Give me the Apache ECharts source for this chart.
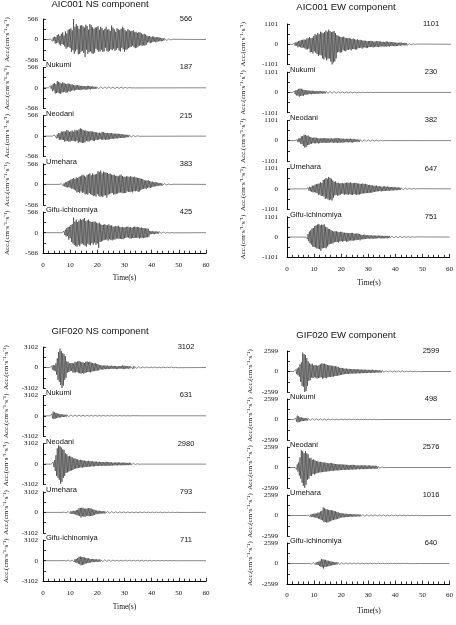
<!DOCTYPE html>
<html>
<head>
<meta charset="utf-8">
<script src="https://cdn.jsdelivr.net/npm/echarts@6/dist/echarts.min.js"></script>
<style>
  html, body { margin: 0; padding: 0; background: #fff; }
  #chart-container { width: 456px; height: 625px; }
</style>
</head>
<body>
<div id="chart-container"></div>
<script>
var dom = document.getElementById("chart-container");
var myChart = echarts.init(dom, null, { renderer: "canvas" });

var panelTitles = ["AIC001 NS component", "AIC001 EW component", "GIF020 NS component", "GIF020 EW component"];
var stationNames = ["", "Nukumi", "Neodani", "Umehara", "Gifu-ichinomiya"];
var axisMax = [566, 1101, 3102, 2599];
var peakValues = [
  [566, 187, 215, 383, 425],
  [1101, 230, 382, 647, 751],
  [3102, 631, 2980, 793, 711],
  [2599, 498, 2576, 1016, 640]
];
// time (s) where each trace leaves the zero line
var onsetTimes = [
  [2, 2, 3.5, 6, 7],
  [2, 2, 3, 7, 7],
  [2.5, 2.5, 3, 7, 7],
  [2.5, 2.5, 3, 7, 7.5]
];
var sampleStep = 0.25; // s between read-off samples (4 per second)

// samples in % of each trace's own peak, one line of 4 per second
var aicNsWaves = [
  [2,-4,3,-5, 6,-9,10,-7, 14,-20,12,-18, 22,-15,25,-24, 18,-30,28,-22, 35,-26,20,-34, 40,-45,30,-38, 48,-36,50,-42,
   55,-60,45,-52, 100,-70,62,-58, 75,-48,66,-72, 52,-70,68,-60, 70,-55,64,-66, 58,-85,72,-50, 66,-70,48,-62, 75,-58,70,-68,
   60,-70,52,-64, 58,-45,60,-52, 65,-60,48,-58, 62,-50,55,-60, 45,-58,52,-40, 62,-55,48,-60, 50,-55,42,-48, 68,-52,58,-45,
   50,-55,38,-50, 55,-42,50,-54, 46,-58,52,-40, 62,-48,55,-60, 45,-50,40,-48, 50,-42,46,-38, 40,-36,42,-30, 45,-38,35,-42,
   38,-40,32,-35, 36,-30,34,-28, 30,-32,25,-28, 28,-30,24,-26, 18,-15,16,-14, 17,-18,12,-15, 15,-12,14,-10, 12,-14,10,-11,
   12,-9,10,-8, 8,-9,6,-7, 6,-5,5,-4, 4,-5,3,-4, 3,-2,3,-2, 2,-1,1,-1],
  [8,-20,28,-15, 35,-50,60,-40, 70,-85,55,-78, 100,-70,88,-82, 75,-90,62,-70, 80,-65,72,-58, 60,-75,55,-68, 65,-50,58,-60,
   48,-42,50,-38, 40,-42,35,-30, 38,-32,40,-28, 35,-30,28,-34, 30,-26,28,-22, 25,-28,22,-26, 30,-24,28,-20, 24,-25,20,-18,
   20,-16,18,-15, 16,-18,14,-12, 15,-13,16,-11, 14,-12,15,-10, 12,-14,11,-9, 12,-10,11,-12, 14,-11,12,-9, 12,-10,11,-12,
   10,-12,9,-10, 10,-9,8,-10, 11,-8,10,-9, 9,-8,7,-8, 7,-6,5,-6, 5,-4,4,-3, 3,-2,2,-1],
  [5,-10,15,-8, 18,-30,22,-26, 40,-50,35,-45, 60,-48,55,-50, 62,-72,58,-65, 78,-60,70,-72, 55,-70,62,-58, 72,-60,55,-66,
   80,-68,74,-60, 70,-90,85,-75, 100,-82,92,-88, 78,-85,70,-80, 72,-60,66,-70, 58,-68,62,-55, 62,-52,58,-60, 55,-62,50,-48,
   48,-50,42,-45, 45,-40,38,-44, 55,-48,50,-42, 44,-48,40,-46, 42,-45,38,-40, 40,-36,38,-34, 35,-36,30,-32, 32,-28,30,-30,
   30,-26,28,-24, 26,-24,22,-25, 22,-20,18,-19, 17,-15,16,-14, 13,-12,11,-10, 10,-9,8,-9, 7,-6,5,-6, 4,-3,3,-2],
  [3,-6,5,-8, 10,-12,8,-15, 15,-20,18,-22, 25,-20,28,-24, 35,-30,40,-32, 45,-38,40,-44, 50,-58,46,-55, 55,-62,58,-50,
   65,-60,70,-58, 62,-72,55,-68, 68,-75,72,-62, 80,-70,66,-76, 78,-85,70,-80, 72,-88,76,-70, 95,-82,90,-88, 100,-85,80,-92,
   92,-80,88,-78, 85,-95,82,-75, 75,-70,78,-65, 70,-62,68,-74, 70,-72,62,-68, 62,-66,58,-60, 66,-58,70,-60, 60,-64,55,-62,
   55,-62,58,-50, 58,-54,52,-56, 60,-52,55,-58, 52,-48,56,-50, 50,-45,48,-55, 46,-50,44,-42, 40,-35,38,-32, 32,-30,28,-33,
   28,-25,30,-22, 24,-26,20,-22, 20,-18,16,-15, 16,-14,15,-12, 12,-10,11,-9, 9,-10,8,-7, 6,-5,5,-6, 5,-4,4,-3,
   3,-2,3,-2, 2,-1,1,-1],
  [5,-12,10,-15, 20,-25,30,-22, 38,-45,40,-35, 50,-60,55,-70, 98,-80,72,-85, 85,-92,70,-78, 78,-88,90,-75, 82,-70,88,-80,
   95,-85,75,-90, 80,-72,85,-78, 75,-82,70,-68, 70,-78,72,-65, 72,-80,65,-70, 60,-100,65,-60, 55,-58,50,-52, 52,-48,55,-45,
   50,-45,48,-52, 55,-42,46,-48, 48,-50,40,-44, 40,-45,42,-38, 42,-38,45,-40, 38,-40,35,-42, 38,-42,35,-36, 35,-33,38,-30,
   40,-32,35,-38, 36,-38,32,-34, 38,-35,40,-33, 36,-34,38,-32, 36,-38,32,-35, 34,-32,30,-35, 30,-34,28,-30, 28,-30,25,-26,
   12,-10,10,-9, 10,-9,8,-10, 8,-7,8,-6, 7,-6,7,-5, 6,-5,5,-4, 5,-4,4,-4, 3,-3,2,-3, 2,-2,2,-1, 1,-1,1,-1]
];
var aicEwWaves = [
  [3,-6,5,-8, 10,-8,12,-15, 16,-12,18,-15, 20,-18,22,-16, 24,-20,22,-26, 28,-25,30,-22, 35,-40,30,-38, 32,-45,40,-35,
   50,-42,45,-48, 55,-58,50,-52, 62,-55,58,-70, 55,-75,60,-65, 68,-80,62,-72, 72,-70,65,-85, 60,-100,62,-90, 65,-85,55,-70,
   45,-40,42,-38, 38,-42,35,-40, 35,-30,38,-32, 32,-35,30,-28, 30,-28,32,-25, 28,-30,26,-24, 28,-24,25,-26, 22,-26,24,-20,
   20,-18,22,-17, 20,-22,18,-16, 18,-16,17,-18, 15,-18,16,-14, 16,-14,17,-13, 15,-16,13,-14, 14,-12,15,-13, 15,-13,14,-12,
   13,-11,12,-10, 12,-13,11,-10, 14,-12,13,-10, 10,-11,12,-9, 10,-8,11,-9, 9,-10,8,-9, 8,-9,7,-6, 8,-7,9,-6,
   6,-5,7,-5, 7,-6,5,-5, 4,-3,3,-3, 3,-3,2,-2, 2,-2,1,-1, 1,-1,1,-1],
  [10,-25,30,-45, 55,-70,60,-78, 85,-100,90,-80, 88,-75,70,-82, 60,-55,52,-58, 50,-45,48,-42, 42,-38,40,-44, 40,-35,38,-36,
   35,-32,30,-34, 30,-28,32,-26, 30,-26,28,-25, 28,-25,24,-26, 25,-22,26,-20, 24,-22,20,-21, 22,-20,18,-17, 20,-18,17,-19,
   18,-15,16,-14, 16,-14,15,-13, 14,-12,13,-11, 13,-12,12,-10, 12,-10,11,-9, 11,-10,10,-9, 10,-9,10,-8, 9,-10,9,-8,
   9,-8,8,-7, 8,-7,8,-6, 7,-6,7,-5, 6,-6,5,-5, 5,-4,4,-3, 4,-3,3,-3, 2,-2,1,-1],
  [5,-12,15,-22, 30,-20,38,-45, 60,-50,65,-75, 85,-100,80,-90, 70,-65,72,-60, 55,-48,52,-45, 40,-35,42,-38, 45,-38,40,-35,
   35,-40,32,-36, 32,-30,34,-28, 38,-32,35,-30, 35,-30,32,-34, 30,-28,32,-26, 32,-26,28,-30, 35,-30,32,-28, 38,-33,36,-30,
   30,-28,32,-26, 26,-30,28,-24, 25,-22,26,-24, 28,-24,25,-22, 30,-26,24,-28, 22,-20,24,-18, 18,-16,17,-15, 15,-17,14,-13,
   14,-12,13,-11, 13,-11,12,-10, 12,-10,11,-10, 11,-9,10,-8, 9,-8,8,-7, 7,-6,7,-6, 6,-5,5,-4, 4,-3,3,-3, 2,-2,1,-1],
  [5,-8,10,-15, 18,-20,15,-25, 28,-30,25,-28, 35,-32,40,-36, 42,-50,45,-48, 55,-60,50,-58, 75,-65,80,-85, 90,-80,85,-88,
   100,-95,92,-90, 85,-98,70,-75, 60,-55,62,-50, 50,-58,52,-55, 45,-50,48,-42, 48,-42,45,-50, 50,-45,52,-48, 52,-48,50,-45,
   55,-50,48,-52, 48,-45,50,-46, 50,-52,45,-48, 45,-48,42,-44, 42,-40,45,-38, 40,-38,42,-36, 38,-35,32,-36, 34,-32,30,-33,
   30,-28,25,-26, 26,-24,28,-22, 22,-20,24,-18, 20,-22,18,-19, 20,-18,22,-17, 18,-17,19,-16, 18,-16,15,-14, 15,-14,16,-13,
   14,-12,13,-11, 12,-11,13,-10, 10,-9,8,-7, 8,-7,7,-6, 6,-5,5,-4, 5,-4,4,-4, 3,-3,2,-2, 2,-2,2,-1, 1,-1,1,-1],
  [8,-15,22,-30, 40,-45,50,-55, 62,-70,65,-72, 80,-75,85,-82, 90,-85,95,-88, 85,-100,90,-82, 88,-80,92,-78, 75,-82,70,-68,
   60,-55,58,-50, 50,-48,45,-46, 40,-38,42,-36, 42,-35,38,-40, 35,-32,38,-30, 38,-34,32,-30, 32,-28,30,-34, 30,-32,28,-26,
   28,-25,30,-26, 30,-26,25,-24, 24,-22,26,-20, 26,-20,22,-24, 18,-16,15,-17, 16,-15,17,-14, 14,-12,13,-11, 13,-12,12,-11,
   12,-10,11,-12, 11,-12,10,-10, 10,-9,11,-8, 10,-9,9,-10, 9,-10,8,-9, 9,-8,8,-9, 8,-7,9,-6, 8,-7,7,-6, 7,-6,6,-5,
   6,-6,6,-5, 5,-4,5,-4, 5,-4,4,-4, 4,-3,3,-3, 3,-3,3,-2, 2,-2,2,-2, 2,-1,1,-1, 1,-1,1,-1]
];
var gifNsWaves = [
  [3,-6,8,-10, 12,-15,10,-18, 20,-35,45,-60, 75,-70,92,-85, 80,-100,70,-88, 65,-60,55,-50, 30,-25,28,-22, 20,-18,22,-16,
   22,-25,20,-24, 28,-24,26,-22, 30,-26,32,-28, 28,-30,25,-27, 25,-30,22,-27, 28,-24,30,-22, 26,-22,28,-24, 24,-20,22,-18,
   20,-18,22,-16, 18,-15,16,-14, 12,-10,11,-9, 10,-11,9,-8, 10,-8,9,-8, 9,-8,8,-7, 8,-7,9,-6, 7,-6,8,-7,
   7,-8,6,-7, 6,-6,7,-5, 8,-6,10,-8, 9,-7,8,-6, 6,-5,7,-6, 6,-5,5,-4, 9,-7,6,-5, 5,-4,4,-4,
   4,-3,4,-3, 3,-3,4,-3, 3,-3,3,-2, 3,-2,3,-2, 3,-2,3,-2, 2,-2,3,-2, 2,-2,3,-2, 2,-2,2,-2,
   2,-2,2,-2, 2,-1,2,-2, 2,-1,2,-1, 2,-1,1,-1, 1,-1,2,-1, 1,-1,1,-1, 1,-1,1,-1],
  [10,-30,45,-60, 100,-80,85,-70, 70,-55,60,-45, 45,-40,42,-38, 35,-30,32,-28, 28,-25,26,-24, 25,-22,24,-20, 20,-18,21,-17,
   18,-16,17,-15, 17,-15,16,-14, 15,-14,16,-12, 16,-13,14,-12, 14,-12,13,-11, 13,-12,12,-11, 12,-10,11,-10, 11,-10,12,-9,
   10,-9,10,-8, 10,-9,9,-8, 9,-8,8,-7, 8,-8,9,-7, 8,-7,7,-6, 7,-7,8,-6, 7,-6,6,-5, 6,-6,7,-5,
   6,-5,5,-5, 5,-5,6,-4, 5,-4,5,-4, 5,-4,4,-4, 4,-3,4,-3, 4,-3,3,-3, 3,-3,2,-2, 2,-2,2,-1, 2,-1,1,-1],
  [4,-8,10,-15, 20,-35,45,-60, 80,-70,95,-80, 90,-100,85,-90, 75,-70,72,-60, 55,-45,50,-42, 40,-38,42,-35, 38,-32,35,-30,
   28,-25,30,-22, 25,-22,24,-20, 20,-18,22,-17, 20,-18,19,-16, 18,-15,16,-14, 16,-15,17,-14, 14,-12,15,-11, 14,-12,13,-11,
   12,-10,13,-9, 11,-10,12,-9, 10,-9,11,-8, 10,-9,9,-8, 12,-9,10,-8, 10,-8,9,-8, 9,-8,7,-6, 8,-7,8,-6,
   8,-7,9,-6, 8,-6,7,-6, 7,-6,8,-5, 7,-6,6,-5, 6,-5,7,-5, 6,-5,5,-4, 4,-3,3,-2, 3,-2,2,-2, 2,-1,1,-1],
  [4,-8,6,-10, 12,-10,15,-12, 18,-20,16,-22, 22,-25,24,-28, 30,-35,28,-40, 45,-55,50,-60, 80,-70,85,-100, 90,-75,88,-80,
   70,-85,72,-65, 78,-70,80,-72, 80,-68,75,-70, 60,-55,55,-50, 40,-35,38,-32, 30,-28,32,-26, 25,-22,24,-20, 24,-20,22,-18,
   20,-18,18,-16, 16,-15,15,-14, 14,-12,13,-11, 13,-11,12,-12, 12,-11,12,-10, 12,-10,11,-10, 11,-10,12,-9, 12,-9,10,-9,
   10,-9,11,-9, 11,-9,10,-8, 10,-8,9,-8, 9,-8,9,-7, 9,-8,10,-7, 10,-7,9,-7, 8,-7,9,-7, 9,-7,8,-6,
   8,-6,7,-6, 7,-6,8,-6, 7,-6,6,-5, 6,-5,7,-5, 6,-5,6,-5, 6,-5,5,-4, 5,-4,5,-4, 5,-4,4,-4, 4,-3,4,-3,
   3,-3,3,-2, 2,-2,1,-1],
  [3,-6,5,-8, 10,-8,12,-10, 14,-12,15,-16, 18,-20,16,-22, 25,-28,30,-35, 40,-50,55,-65, 85,-75,90,-100, 80,-90,78,-85,
   70,-65,60,-58, 55,-50,52,-48, 40,-38,35,-32, 38,-30,35,-28, 28,-26,30,-24, 25,-24,28,-22, 22,-20,25,-18, 22,-19,20,-18,
   20,-17,18,-16, 18,-16,17,-15, 15,-13,14,-12, 14,-13,13,-12, 12,-11,13,-10, 12,-10,11,-10, 11,-10,10,-9, 10,-9,11,-9,
   10,-9,11,-8, 10,-8,9,-8, 9,-8,10,-8, 9,-8,9,-7, 9,-7,8,-7, 8,-7,8,-7, 8,-7,8,-6, 8,-6,7,-6,
   7,-6,7,-6, 7,-6,6,-5, 6,-5,6,-5, 6,-5,5,-5, 5,-5,5,-4, 5,-4,5,-4, 4,-4,4,-3, 4,-3,4,-3, 3,-3,3,-2,
   3,-2,2,-2, 2,-1,1,-1]
];
var gifEwWaves = [
  [4,-8,10,-12, 15,-18,20,-25, 35,-50,45,-70, 92,-75,85,-100, 80,-95,65,-70, 50,-45,40,-42, 35,-30,38,-32, 30,-28,32,-30,
   30,-35,28,-32, 32,-30,35,-28, 40,-35,38,-32, 38,-30,35,-33, 32,-28,30,-26, 30,-27,28,-25, 28,-25,26,-22, 26,-22,24,-20,
   22,-20,18,-17, 18,-16,17,-15, 15,-13,14,-12, 14,-12,13,-12, 13,-11,12,-10, 12,-10,11,-10, 11,-10,12,-9, 11,-9,10,-9,
   10,-9,9,-8, 9,-8,9,-8, 9,-8,8,-7, 8,-7,8,-7, 8,-7,9,-6, 7,-6,8,-6, 6,-5,6,-5, 6,-5,5,-5,
   5,-4,5,-4, 5,-4,4,-4, 4,-3,4,-3, 4,-3,3,-3, 3,-3,3,-2, 3,-2,3,-2, 3,-2,3,-2, 2,-2,3,-2,
   2,-2,2,-2, 2,-2,2,-1, 2,-1,2,-1, 2,-1,1,-1, 1,-1,1,-1, 1,-1,1,-1, 1,-1,1,-1],
  [10,-25,40,-55, 100,-75,80,-65, 60,-50,55,-42, 42,-38,40,-35, 32,-28,30,-26, 26,-24,25,-22, 22,-20,21,-19, 21,-18,20,-17,
   18,-16,17,-15, 17,-15,16,-14, 16,-14,15,-13, 15,-13,14,-12, 14,-12,13,-12, 13,-12,12,-11, 12,-11,12,-10, 12,-10,11,-10,
   11,-10,10,-9, 10,-9,10,-9, 10,-9,9,-8, 9,-8,9,-8, 9,-8,8,-7, 8,-7,8,-7, 8,-7,7,-6, 7,-6,7,-6,
   7,-6,6,-5, 6,-5,6,-5, 6,-5,5,-4, 5,-4,5,-4, 4,-4,4,-3, 4,-3,3,-3, 3,-2,2,-2, 2,-2,2,-1, 1,-1,1,-1],
  [5,-10,15,-20, 25,-40,50,-55, 85,-75,80,-90, 70,-100,80,-85, 70,-60,65,-55, 45,-40,48,-42, 38,-32,40,-35, 35,-30,32,-28,
   30,-26,28,-24, 28,-24,26,-22, 25,-22,24,-20, 24,-20,22,-19, 20,-18,22,-16, 22,-17,20,-16, 18,-15,17,-14, 17,-14,16,-14,
   15,-13,16,-12, 15,-12,14,-12, 14,-12,13,-11, 13,-11,12,-11, 12,-10,13,-10, 13,-10,12,-9, 11,-9,10,-8, 10,-9,11,-8,
   10,-8,11,-8, 11,-8,10,-8, 9,-7,10,-7, 10,-7,9,-7, 8,-6,9,-6, 9,-6,8,-6, 5,-4,4,-3, 4,-3,3,-2, 2,-1,1,-1],
  [4,-8,6,-10, 12,-15,14,-18, 18,-20,22,-24, 25,-28,26,-30, 35,-40,38,-45, 50,-55,58,-62, 100,-85,90,-80, 80,-90,75,-85,
   70,-75,68,-72, 65,-60,62,-58, 55,-50,52,-48, 45,-42,40,-38, 30,-28,32,-26, 26,-24,25,-22, 22,-20,21,-19, 20,-18,19,-17,
   18,-16,17,-15, 15,-14,16,-13, 14,-12,13,-12, 13,-12,14,-11, 12,-11,12,-10, 11,-10,12,-10, 10,-9,11,-9, 11,-9,10,-8,
   10,-8,9,-8, 9,-8,9,-7, 9,-8,8,-7, 8,-7,8,-7, 8,-7,8,-6, 8,-6,7,-6, 7,-6,7,-6, 7,-6,6,-5, 6,-5,6,-5,
   6,-5,6,-5, 5,-5,5,-4, 5,-4,5,-4, 4,-4,4,-3, 4,-3,4,-3, 3,-3,3,-3, 3,-3,3,-2, 3,-2,2,-2, 2,-2,2,-1,
   1,-1,1,-1],
  [3,-6,5,-8, 10,-12,11,-15, 16,-18,20,-22, 22,-25,28,-30, 40,-50,55,-65, 90,-75,80,-100, 78,-70,72,-65, 60,-58,55,-52,
   45,-40,42,-38, 35,-32,30,-28, 25,-22,24,-20, 20,-18,19,-17, 17,-15,16,-14, 15,-14,15,-13, 14,-12,13,-12, 13,-11,12,-11,
   12,-11,12,-10, 11,-10,11,-10, 10,-9,10,-9, 10,-9,10,-8, 9,-8,9,-8, 9,-8,8,-7, 8,-7,8,-7, 8,-7,8,-7,
   7,-6,7,-6, 7,-6,7,-6, 7,-6,6,-6, 6,-5,6,-5, 6,-5,6,-5, 5,-5,5,-4, 5,-4,5,-4, 5,-4,4,-4, 4,-4,4,-3,
   4,-3,4,-3, 4,-3,3,-3, 3,-3,3,-2, 3,-2,3,-2, 2,-2,2,-2, 2,-2,2,-1, 2,-1,1,-1, 1,-1,1,-1, 1,-1,1,-1]
];
var waves = [aicNsWaves, aicEwWaves, gifNsWaves, gifEwWaves];

// pixel layout of the four panels
var layouts = [
  { left: 43, width: 163, top: 19, step: 48.3, height: 41, titleX: 100, titleY: 4, nameGap: 32, labelMargin: 5, timeY: 278 },
  { left: 287, width: 164, top: 24, step: 48.2, height: 40.5, titleX: 346, titleY: 7, nameGap: 40, labelMargin: 9, timeY: 283 },
  { left: 43, width: 163, top: 347, step: 48.3, height: 41, titleX: 100, titleY: 331, nameGap: 33, labelMargin: 5, timeY: 607 },
  { left: 287, width: 164, top: 351, step: 48, height: 41, titleX: 346, titleY: 335, nameGap: 33, labelMargin: 9, timeY: 611 }
];

var SANS = "Liberation Sans, Arial, sans-serif";
var SERIF = "Liberation Serif, Times New Roman, serif";

function traceData(p, i) {
  var t0 = onsetTimes[p][i];
  var w = waves[p][i];
  var peak = peakValues[p][i];
  var pts = [[0, 0], [t0, 0]];
  for (var k = 0; k < w.length; k++) {
    pts.push([t0 + (k + 1) * sampleStep, (w[k] / 100) * peak]);
  }
  pts.push([t0 + (w.length + 1) * sampleStep, 0]);
  pts.push([60, 0]);
  return pts;
}

function label(text, x, y, font, align) {
  return {
    type: "text",
    x: x,
    y: y,
    silent: true,
    style: {
      text: text,
      font: font,
      fill: "#111",
      align: align || "center",
      verticalAlign: "middle",
      textAlign: align || "center",
      textVerticalAlign: "middle"
    }
  };
}

var grids = [], xAxes = [], yAxes = [], series = [], graphics = [];

layouts.forEach(function (L, p) {
  var max = axisMax[p];
  graphics.push(label(panelTitles[p], L.titleX, L.titleY, "9.5px " + SANS));
  graphics.push(label("Time(s)", L.left + L.width / 2, L.timeY, "7.5px " + SERIF));

  for (var i = 0; i < 5; i++) {
    var top = L.top + i * L.step;
    var idx = grids.length;
    var bottomRow = i === 4;
    grids.push({ left: L.left, top: top, width: L.width, height: L.height });

    xAxes.push({
      gridIndex: idx,
      type: "value",
      min: 0,
      max: 60,
      interval: 10,
      show: bottomRow,
      axisLine: { show: true, onZero: false, lineStyle: { color: "#000", width: 1 } },
      axisTick: { show: true, inside: true, length: 3.5, lineStyle: { color: "#000", width: 0.8 } },
      minorTick: { show: true, splitNumber: 5, length: 2.5, lineStyle: { color: "#000", width: 0.8 } },
      axisLabel: { show: true, margin: 8, fontSize: 7, fontFamily: SERIF, color: "#111" },
      splitLine: { show: false }
    });

    yAxes.push({
      gridIndex: idx,
      type: "value",
      min: -max,
      max: max,
      interval: max / 2,
      name: "Acc.(cm·s⁻¹·s⁻¹)",
      nameLocation: "middle",
      nameRotate: 90,
      nameGap: L.nameGap,
      nameTextStyle: { fontFamily: SERIF, fontSize: 7, color: "#111" },
      axisLine: { show: true, onZero: false, lineStyle: { color: "#000", width: 1 } },
      axisTick: { show: true, inside: true, length: 3, lineStyle: { color: "#000", width: 0.8 } },
      axisLabel: {
        margin: L.labelMargin,
        fontSize: 7,
        fontFamily: SERIF,
        color: "#111",
        formatter: (function (m) {
          return function (v) {
            return Math.abs(Math.abs(v) - m) < 1e-6 || Math.abs(v) < 1e-6 ? String(Math.round(v)) : "";
          };
        })(max)
      },
      splitLine: { show: false }
    });

    series.push({
      type: "line",
      xAxisIndex: idx,
      yAxisIndex: idx,
      data: traceData(p, i),
      showSymbol: false,
      symbol: "none",
      silent: true,
      lineStyle: { color: "#111", width: 0.5 }
    });

    graphics.push(label(String(peakValues[p][i]), L.left + L.width - 20, top, "7.5px " + SANS));
    if (stationNames[i]) {
      graphics.push(label(stationNames[i], L.left + 3, top - 2, "7.5px " + SANS, "left"));
    }
  }
});

var option = {
  animation: false,
  backgroundColor: "#fff",
  grid: grids,
  xAxis: xAxes,
  yAxis: yAxes,
  series: series,
  graphic: graphics
};

myChart.setOption(option);
window.addEventListener("resize", myChart.resize);
</script>
</body>
</html>
